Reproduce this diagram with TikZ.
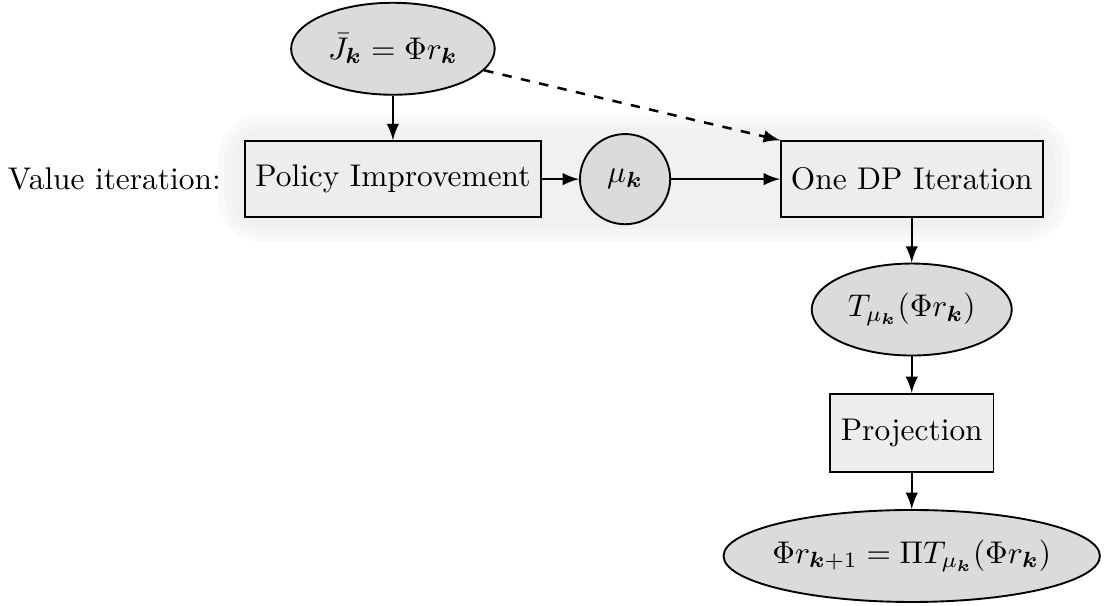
\documentclass[tikz,border=0pt]{standalone}
\usepackage{bm}
\usetikzlibrary{shapes.geometric}

\begin{document}
\begin{tikzpicture}[>=latex,
  box/.style={draw, semithick, fill=gray!14, inner sep=0pt},
  blob/.style={draw, semithick, ellipse, fill=gray!28, inner sep=0pt},
  conn/.style={thick, ->}]

\useasboundingbox (0, 0) rectangle (12.43, 6.776);

%%%%%%%%%%%% shaded band
  \fill[gray!5, rounded corners=14pt] (2.44, 4.07) rectangle (11.97, 5.49);
  \fill[gray!8, rounded corners=12pt] (2.52, 4.14) rectangle (11.89, 5.41);
  \fill[gray!11, rounded corners=10pt] (2.60, 4.21) rectangle (11.81, 5.34);

%%%%%%%%%%%% nodes
  \node[blob, minimum width=2.28cm, minimum height=1.03cm] (jbar) at (4.40, 6.23) {$\bar J_{\bm k} = \Phi r_{\bm k}$};
  \node (label) at (1.28, 4.77) {Value iteration:};
  \node[box, minimum width=3.32cm, minimum height=0.85cm] (improve) at (4.40, 4.77) {Policy Improvement};
  \node[blob, circle, minimum size=1.01cm] (mu) at (7.00, 4.77) {$\mu_{\bm k}$};
  \node[box, minimum width=2.93cm, minimum height=0.85cm] (dp) at (10.21, 4.77) {One DP Iteration};
  \node[blob, minimum width=2.24cm, minimum height=1.03cm] (tmu) at (10.21, 3.31) {$T_{\mu_{\bm k}}(\Phi r_{\bm k})$};
  \node[box, minimum width=1.83cm, minimum height=0.87cm] (proj) at (10.21, 1.93) {Projection};
  \node[blob, inner xsep=-2pt, minimum height=1.03cm] (next) at (10.21, 0.55) {$\Phi r_{{\bm k}+1} = \Pi T_{\mu_{\bm k}}(\Phi r_{\bm k})$};

%%%%%%%%%%%% connectors
  \draw[conn] (jbar) -- (improve);
  \draw[conn] (improve) -- (mu);
  \draw[conn] (mu) -- (dp);
  \draw[conn, dashed] (jbar) -- (dp.north west);
  \draw[conn] (dp) -- (tmu);
  \draw[conn] (tmu) -- (proj);
  \draw[conn] (proj) -- (next);

\end{tikzpicture}
\end{document}
